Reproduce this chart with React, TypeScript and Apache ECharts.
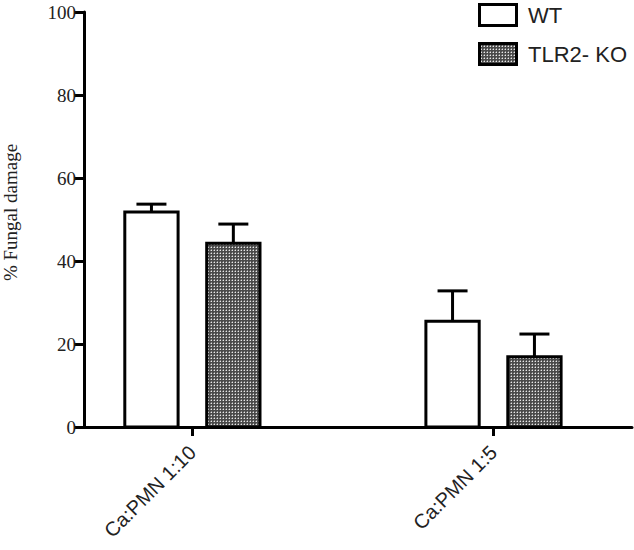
import React, { useEffect, useRef } from "react";
import * as echarts from "echarts";

const categories = ["Ca:PMN 1:10", "Ca:PMN 1:5"];
const seriesNames = ["WT", "TLR2- KO"];
const wtValues = [51.8, 25.5];
const wtErrors = [1.9, 7.3];
const koValues = [44.3, 16.9];
const koErrors = [4.6, 5.5];

function makePattern(): HTMLCanvasElement {
  const c = document.createElement("canvas");
  c.width = 3;
  c.height = 3;
  const ctx = c.getContext("2d")!;
  ctx.fillStyle = "#4a4a4a";
  ctx.fillRect(0, 0, 3, 3);
  ctx.fillStyle = "#e8e8e8";
  ctx.fillRect(1, 1, 1, 1);
  ctx.fillStyle = "#8a8a8a";
  ctx.fillRect(0, 1, 1, 1);
  ctx.fillRect(1, 0, 1, 1);
  return c;
}

const BAR_OFFSET = 0.136;
const BAR_WIDTH = 0.177;
const CAP_HALF = 15;

export default function App() {
  const ref = useRef<HTMLDivElement>(null);

  useEffect(() => {
    const chart = echarts.init(ref.current!, null, { renderer: "svg" });
    const canvas = makePattern();
    const patternFill: any = {
      image: canvas,
      repeat: "repeat",
      imageWidth: 3,
      imageHeight: 3,
    };

    const makeRender = (offset: number, fill: any) => (params: any, api: any) => {
      const x = api.value(0) + offset;
      const v = api.value(1);
      const e = api.value(2);
      const left = api.coord([x - BAR_WIDTH / 2, 0]);
      const right = api.coord([x + BAR_WIDTH / 2, v]);
      const top = api.coord([x, v]);
      const cap = api.coord([x, v + e]);
      return {
        type: "group",
        children: [
          {
            type: "rect",
            shape: {
              x: left[0],
              y: right[1],
              width: right[0] - left[0],
              height: left[1] - right[1],
            },
            style: { fill, stroke: "#000", lineWidth: 3 },
          },
          {
            type: "line",
            shape: { x1: top[0], y1: top[1], x2: cap[0], y2: cap[1] },
            style: { stroke: "#000", lineWidth: 3 },
          },
          {
            type: "line",
            shape: { x1: cap[0] - CAP_HALF, y1: cap[1], x2: cap[0] + CAP_HALF, y2: cap[1] },
            style: { stroke: "#000", lineWidth: 3 },
          },
        ],
      };
    };

    const wtData = wtValues.map((v, i) => [i, v, wtErrors[i]]);
    const koData = koValues.map((v, i) => [i, v, koErrors[i]]);

    chart.setOption({
      animation: false,
      grid: {
        left: 84,
        top: 12,
        right: 2,
        bottom: 123,
        containLabel: false,
        outerBoundsMode: "none",
      },
      xAxis: {
        type: "value",
        min: -0.36,
        max: 1.46,
        axisLine: { show: true, onZero: false, lineStyle: { color: "#000", width: 3 } },
        axisTick: {
          show: true,
          customValues: [0, 1],
          length: 9,
          lineStyle: { color: "#000", width: 3 },
        },
        axisLabel: {
          customValues: [0, 1],
          rotate: 45,
          margin: 22,
          fontFamily: "Liberation Sans",
          fontSize: 20,
          color: "#222",
          formatter: (v: number) => categories[Math.round(v)] ?? "",
        },
        splitLine: { show: false },
      },
      yAxis: {
        type: "value",
        min: 0,
        max: 100,
        interval: 20,
        name: "% Fungal damage",
        nameLocation: "middle",
        nameRotate: 90,
        nameGap: 64,
        nameTextStyle: {
          fontFamily: "Liberation Serif",
          fontSize: 19,
          color: "#222",
          padding: [0, 0, 0, 14],
        },
        axisLine: { show: true, onZero: false, lineStyle: { color: "#000", width: 3 } },
        axisTick: { show: true, length: 10, lineStyle: { color: "#000", width: 3 } },
        axisLabel: {
          margin: 8,
          fontFamily: "'Liberation Serif', serif",
          fontSize: 19,
          color: "#222",
        },
        splitLine: { show: false },
      },
      series: [
        {
          name: seriesNames[0],
          type: "custom",
          renderItem: makeRender(-BAR_OFFSET, "#fff"),
          data: wtData,
          encode: { x: 0, y: 1 },
        },
        {
          name: seriesNames[1],
          type: "custom",
          renderItem: makeRender(BAR_OFFSET, patternFill),
          data: koData,
          encode: { x: 0, y: 1 },
        },
      ],
      graphic: [
        {
          type: "rect",
          shape: { x: 479.5, y: 4.5, width: 37, height: 21 },
          style: { fill: "#fff", stroke: "#000", lineWidth: 3 },
        },
        {
          type: "text",
          x: 528,
          y: 15,
          style: {
            text: seriesNames[0],
            fontFamily: "Liberation Sans",
            fontSize: 22,
            fill: "#222",
            verticalAlign: "middle",
          },
        },
        {
          type: "rect",
          shape: { x: 479.5, y: 43.5, width: 37, height: 21 },
          style: { fill: patternFill, stroke: "#000", lineWidth: 3 },
        },
        {
          type: "text",
          x: 528,
          y: 54,
          style: {
            text: seriesNames[1],
            fontFamily: "Liberation Sans",
            fontSize: 22,
            fill: "#222",
            verticalAlign: "middle",
          },
        },
      ],
    });
    return () => chart.dispose();
  }, []);

  return (
    <div
      ref={ref}
      style={{ position: "absolute", left: 0, top: 0, width: 634, height: 550, background: "#fff" }}
    />
  );
}
